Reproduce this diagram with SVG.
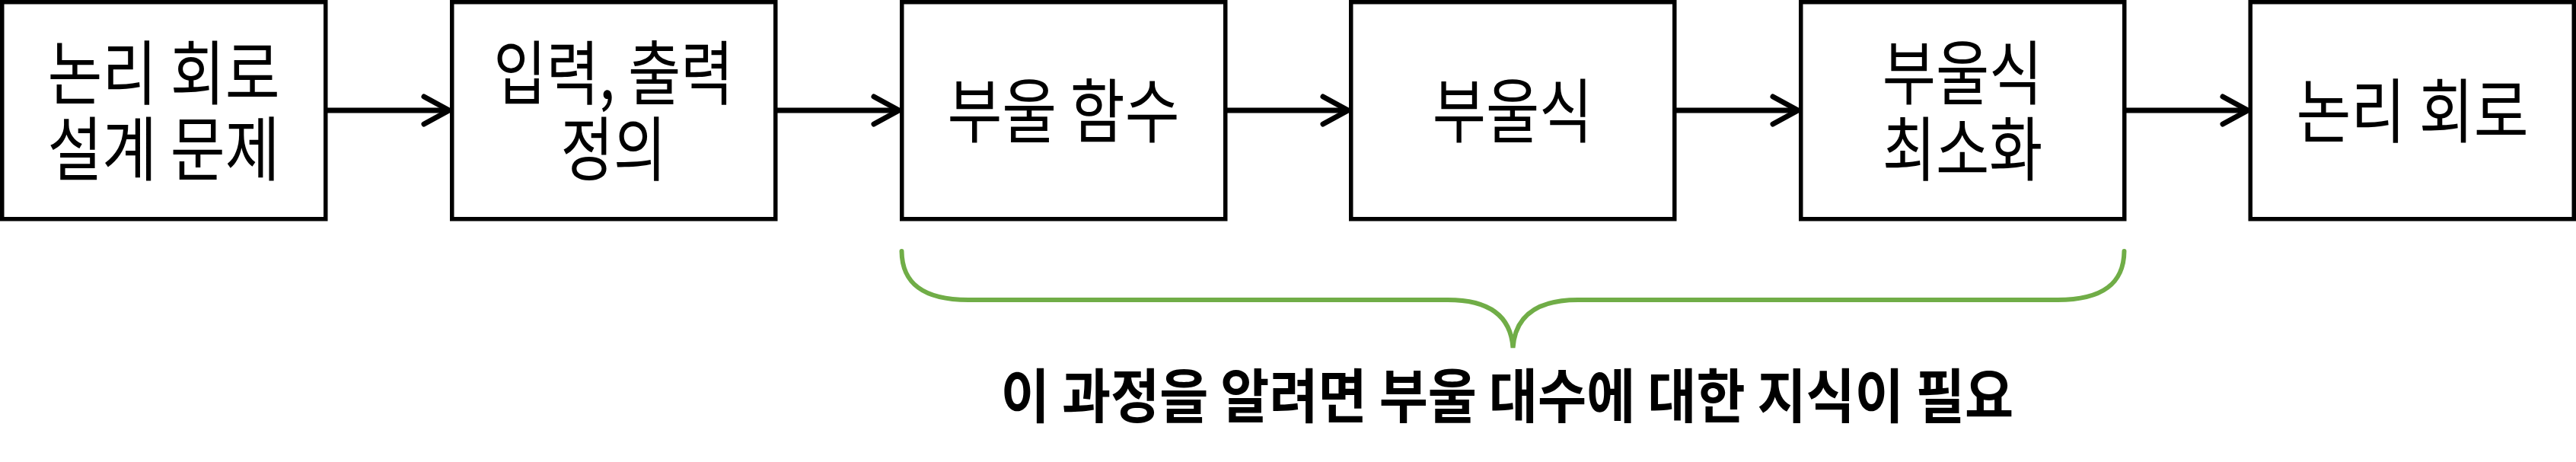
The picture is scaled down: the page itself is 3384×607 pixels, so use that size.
<svg xmlns="http://www.w3.org/2000/svg" width="3384" height="607" viewBox="0 0 3384 607">
<style>
.box{fill:#fff;stroke:#000;stroke-width:5.5}
.lbl{font-family:"Noto Sans CJK KR","Noto Sans",sans-serif;font-size:92px;fill:#000;text-anchor:middle}
.note{font-family:"Noto Sans CJK KR","Noto Sans",sans-serif;font-size:77px;font-weight:bold;fill:#000;text-anchor:middle}
.conn{stroke:#000;stroke-width:7;fill:none}
.brace{stroke:#70AD47;stroke-width:6;fill:none;stroke-linecap:round}
</style>
<defs>
<marker id="arr" markerUnits="userSpaceOnUse" viewBox="-40 -24 46 48" markerWidth="46" markerHeight="48" refX="0" refY="0" orient="auto" overflow="visible">
<path d="M-33,-18 L0,0 L-33,18" fill="none" stroke="#000" stroke-width="7" stroke-linecap="round" stroke-linejoin="round"/>
</marker>
</defs>
<g id="n1"><rect class="box" x="2.75" y="2.75" width="425" height="285"/>
<text class="lbl" transform="translate(215,130) scale(0.85,1)"><tspan x="0" y="0">논리 회로</tspan><tspan x="0" y="100">설계 문제</tspan></text></g>
<g id="n2"><rect class="box" x="593.75" y="2.75" width="425" height="285"/>
<text class="lbl" transform="translate(806,130) scale(0.82,1)"><tspan x="0" y="0">입력, 출력</tspan><tspan x="0" y="100">정의</tspan></text></g>
<g id="n3"><rect class="box" x="1184.75" y="2.75" width="425" height="285"/>
<text class="lbl" transform="translate(1397,180) scale(0.85,1)">부울 함수</text></g>
<g id="n4"><rect class="box" x="1774.75" y="2.75" width="425" height="285"/>
<text class="lbl" transform="translate(1987,180) scale(0.83,1)">부울식</text></g>
<g id="n5"><rect class="box" x="2365.75" y="2.75" width="425" height="285"/>
<text class="lbl" transform="translate(2578,130) scale(0.83,1)"><tspan x="0" y="0">부울식</tspan><tspan x="0" y="100">최소화</tspan></text></g>
<g id="n6"><rect class="box" x="2956.25" y="2.75" width="425" height="285"/>
<text class="lbl" transform="translate(3169,180) scale(0.85,1)">논리 회로</text></g>
<g id="connectors">
<path class="conn" d="M430,145 H590" marker-end="url(#arr)"/>
<path class="conn" d="M1021,145 H1181" marker-end="url(#arr)"/>
<path class="conn" d="M1612,145 H1771" marker-end="url(#arr)"/>
<path class="conn" d="M2202,145 H2362" marker-end="url(#arr)"/>
<path class="conn" d="M2793,145 H2953" marker-end="url(#arr)"/>
</g>
<g id="brace">
<path class="brace" d="M1184.5,330 C1185,372 1212,394 1272,394 L1902,394 C1962,394 1985,420 1987.5,457 C1990,420 2013,394 2073,394 L2703,394 C2763,394 2790,372 2790.5,330"/>
</g>
<g id="note"><text class="note" transform="translate(1980,549) scale(0.906,1)">이 과정을 알려면 부울 대수에 대한 지식이 필요</text></g>
</svg>
